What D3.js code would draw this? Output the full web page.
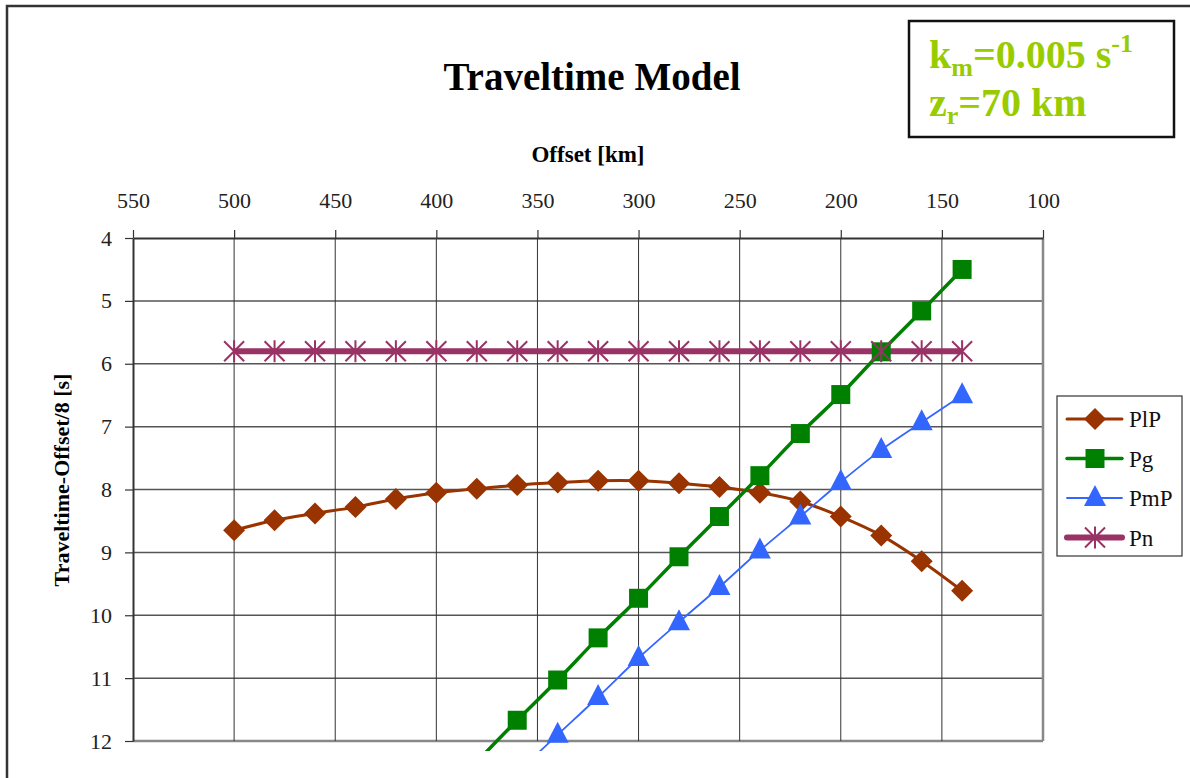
<!DOCTYPE html>
<html>
<head>
<meta charset="utf-8">
<script src="https://cdn.jsdelivr.net/npm/d3@7"></script>
<style>
  body { margin: 0; background: #fff; }
  svg { display: block; font-family: 'Liberation Serif', 'DejaVu Serif', serif; }
</style>
</head>
<body>
<div id="chart"></div>
<script>
// offsets in km (shared by the series)
const offsets = [500, 480, 460, 440, 420, 400, 380, 360, 340, 320, 300, 280, 260, 240, 220, 200, 180, 160, 140];
const pgOffsets = [380, 360, 340, 320, 300, 280, 260, 240, 220, 200, 180, 160, 140];
const pmpOffsets = [360, 340, 320, 300, 280, 260, 240, 220, 200, 180, 160, 140];

// reduced traveltime [s]
const plpValues = [8.65, 8.49, 8.38, 8.28, 8.15, 8.05, 7.99, 7.93, 7.89, 7.86, 7.86, 7.90, 7.96, 8.05, 8.19, 8.43, 8.73, 9.14, 9.61];
const pgValues = [12.33, 11.67, 11.03, 10.36, 9.73, 9.07, 8.43, 7.78, 7.11, 6.49, 5.81, 5.16, 4.50];
const pmpValues = [12.5, 11.90, 11.30, 10.68, 10.11, 9.55, 8.97, 8.43, 7.88, 7.37, 6.93, 6.50];
const pnValues = [5.8, 5.8, 5.8, 5.8, 5.8, 5.8, 5.8, 5.8, 5.8, 5.8, 5.8, 5.8, 5.8, 5.8, 5.8, 5.8, 5.8, 5.8, 5.8];

const xTicks = [550, 500, 450, 400, 350, 300, 250, 200, 150, 100];
const yTicks = [4, 5, 6, 7, 8, 9, 10, 11, 12];

const series = [
  { name: 'PlP', xs: offsets, ys: plpValues, color: '#993300', width: 3, marker: 'diamond' },
  { name: 'Pg', xs: pgOffsets, ys: pgValues, color: '#008000', width: 3.5, marker: 'square' },
  { name: 'PmP', xs: pmpOffsets, ys: pmpValues, color: '#3366FF', width: 1.8, marker: 'triangle' },
  { name: 'Pn', xs: offsets, ys: pnValues, color: '#993366', width: 6, marker: 'star' },
];

const W = 1190, H = 778;
const svg = d3.select('#chart').append('svg').attr('width', W).attr('height', H);

const x = d3.scaleLinear().domain([550, 100]).range([133, 1043]);
const y = d3.scaleLinear().domain([4, 12]).range([238, 741]);

// outer frame (left + top edges visible)
svg.append('path').attr('d', `M7,${H} L7,6 L${W},6`).attr('fill', 'none')
  .attr('stroke', '#333').attr('stroke-width', 2.5);

// title
svg.append('text').attr('x', 592).attr('y', 90).attr('text-anchor', 'middle')
  .style('font-size', '39px').style('font-weight', 'bold').text('Traveltime Model');

// parameter box
const box = svg.append('g');
box.append('rect').attr('x', 909).attr('y', 21).attr('width', 265).attr('height', 116)
  .attr('fill', '#fff').attr('stroke', '#111').attr('stroke-width', 2.5);
const t1 = box.append('text').attr('x', 929).attr('y', 68).attr('fill', '#99CC00')
  .style('font-size', '40px').style('font-weight', 'bold');
t1.append('tspan').text('k');
t1.append('tspan').attr('dy', 8).style('font-size', '26px').text('m');
t1.append('tspan').attr('dy', -8).text('=0.005 s');
t1.append('tspan').attr('dy', -16).style('font-size', '26px').text('-1');
const t2 = box.append('text').attr('x', 929).attr('y', 116).attr('fill', '#99CC00')
  .style('font-size', '40px').style('font-weight', 'bold');
t2.append('tspan').text('z');
t2.append('tspan').attr('dy', 8).style('font-size', '26px').text('r');
t2.append('tspan').attr('dy', -8).text('=70 km');

// axis titles
svg.append('text').attr('x', 588).attr('y', 162).attr('text-anchor', 'middle')
  .style('font-size', '23px').style('font-weight', 'bold').text('Offset [km]');
svg.append('text').attr('transform', 'translate(69,480) rotate(-90)').attr('text-anchor', 'middle')
  .style('font-size', '22px').style('font-weight', 'bold').text('Traveltime-Offset/8 [s]');

// grid
const grid = svg.append('g');
grid.selectAll('.hg').data(yTicks.slice(1)).enter().append('line')
  .attr('x1', 133).attr('x2', 1043).attr('y1', d => y(d)).attr('y2', d => y(d))
  .attr('stroke', d => d === 12 ? '#888' : '#555').attr('stroke-width', d => d === 12 ? 2.5 : 1.5);
grid.selectAll('.vg').data(xTicks.slice(1)).enter().append('line')
  .attr('x1', d => x(d)).attr('x2', d => x(d)).attr('y1', 238).attr('y2', 741)
  .attr('stroke', d => d === 100 ? '#888' : '#333').attr('stroke-width', d => d === 100 ? 2.5 : 1);

// axes
const xAxis = svg.append('g').attr('transform', 'translate(0,238)')
  .call(d3.axisTop(x).tickValues(xTicks).tickSize(8).tickPadding(22).tickSizeOuter(0));
const yAxis = svg.append('g').attr('transform', 'translate(133,0)')
  .call(d3.axisLeft(y).tickValues(yTicks).tickSize(8).tickPadding(13).tickSizeOuter(0));
[xAxis, yAxis].forEach(a => {
  a.select('.domain').attr('stroke', '#333').attr('stroke-width', 2);
  a.selectAll('.tick line').attr('stroke', '#333').attr('stroke-width', 1.2);
  a.selectAll('.tick text').attr('fill', '#222')
    .style('font-size', '22px').style('font-family', "'Liberation Serif', serif");
});

// clip (series run a little past the last gridline)
svg.append('clipPath').attr('id', 'plot').append('rect')
  .attr('x', 133).attr('y', 230).attr('width', 915).attr('height', 521);

const plot = svg.append('g').attr('clip-path', 'url(#plot)');
const line = d3.line().x(d => x(d[0])).y(d => y(d[1])).curve(d3.curveCatmullRom);

function markerPath(type) {
  if (type === 'diamond') return 'M0,-11L11,0L0,11L-11,0Z';
  if (type === 'square') return 'M-9.5,-9.5H9.5V9.5H-9.5Z';
  if (type === 'triangle') return 'M0,-13L11,8H-11Z';
  return 'M-10,-10L10,10M10,-10L-10,10M0,-11V11';
}
function drawMarker(g, s) {
  const p = g.append('path').attr('d', markerPath(s.marker));
  if (s.marker === 'star') p.attr('fill', 'none').attr('stroke', s.color).attr('stroke-width', 2);
  else p.attr('fill', s.color);
}

series.forEach(s => {
  const pts = s.xs.map((v, i) => [v, s.ys[i]]);
  plot.append('path').datum(pts).attr('d', line).attr('fill', 'none')
    .attr('stroke', s.color).attr('stroke-width', s.width).attr('stroke-linejoin', 'round');
});
series.forEach(s => {
  s.xs.forEach((v, i) => {
    const g = plot.append('g').attr('transform', `translate(${x(v)},${y(s.ys[i])})`);
    drawMarker(g, s);
  });
});

// legend
const lg = svg.append('g');
lg.append('rect').attr('x', 1057).attr('y', 396).attr('width', 125).attr('height', 160)
  .attr('fill', '#fff').attr('stroke', '#333').attr('stroke-width', 1.2);
series.forEach((s, i) => {
  const cy = 419 + i * 39.5;
  lg.append('line').attr('x1', 1067).attr('x2', 1122).attr('y1', cy).attr('y2', cy)
    .attr('stroke', s.color).attr('stroke-width', s.width).attr('stroke-linecap', 'round');
  const g = lg.append('g').attr('transform', `translate(1095,${cy})`);
  drawMarker(g, s);
  lg.append('text').attr('x', 1129).attr('y', cy + 8).style('font-size', '23px').attr('fill', '#111').text(s.name);
});
</script>
</body>
</html>
